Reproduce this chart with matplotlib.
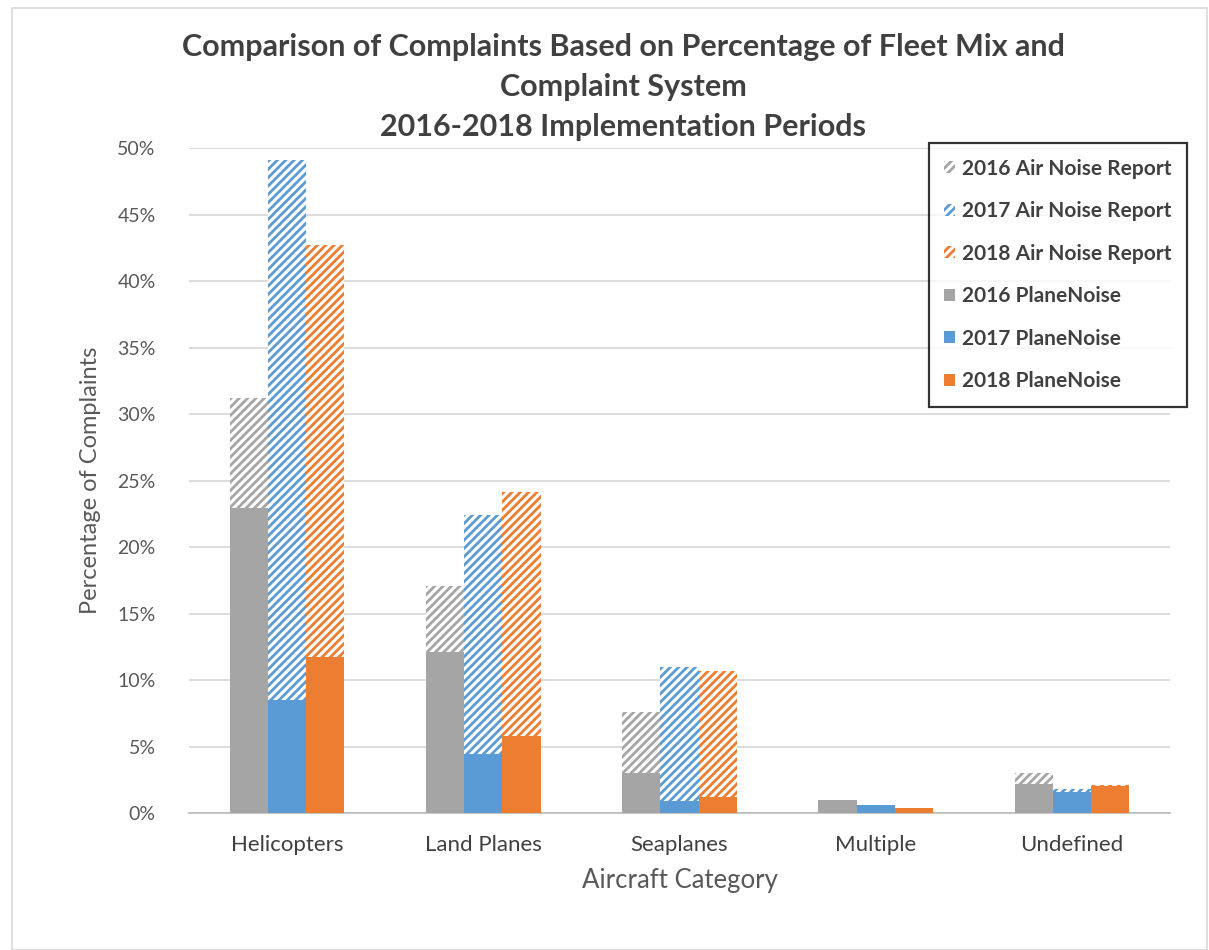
import numpy as np
import matplotlib
matplotlib.use("Agg")
import matplotlib.pyplot as plt
from matplotlib.patches import Rectangle

categories = ["Helicopters", "Land Planes", "Seaplanes", "Multiple", "Undefined"]

# Air Noise Report (hatched, drawn behind)
anr_2016 = [31.2, 17.1, 7.6, 0.8, 3.0]
anr_2017 = [49.1, 22.4, 11.0, 0.4, 1.8]
anr_2018 = [42.7, 24.1, 10.7, 0.3, 2.1]

# PlaneNoise (solid, drawn in front)
pn_2016 = [22.9, 12.1, 3.0, 1.0, 2.2]
pn_2017 = [8.5, 4.4, 0.9, 0.6, 1.6]
pn_2018 = [11.7, 5.8, 1.2, 0.35, 2.0]

years = ["2016", "2017", "2018"]
colors = ["#A5A5A5", "#5B9BD5", "#ED7D31"]

plt.rcParams["font.family"] = ["Lato", "DejaVu Sans"]
plt.rcParams["hatch.linewidth"] = 2.25

fig = plt.figure(figsize=(12.09, 9.5), dpi=100)
ax = fig.add_axes([189 / 1209, 1 - 813 / 950, (1170 - 189) / 1209, (813 - 148) / 950])

x = np.arange(len(categories))
w = 0.195
offsets = [-w, 0, w]

anr = [anr_2016, anr_2017, anr_2018]
pn = [pn_2016, pn_2017, pn_2018]

hatched_handles = []
solid_handles = []
for i in range(3):
    h = ax.bar(x + offsets[i], anr[i], width=w, color=colors[i], edgecolor="white",
               hatch="////", linewidth=0, zorder=2, label=years[i] + " Air Noise Report")
    hatched_handles.append(h)
for i in range(3):
    s = ax.bar(x + offsets[i], pn[i], width=w, color=colors[i], linewidth=0,
               zorder=3, label=years[i] + " PlaneNoise")
    solid_handles.append(s)

ax.set_xlim(-0.5, 4.5)
ax.set_ylim(0, 50)
ax.set_yticks(np.arange(0, 51, 5))
ax.set_yticklabels([f"{v}%" for v in range(0, 51, 5)])
ax.set_xticks(x)
ax.set_xticklabels(categories)
ax.yaxis.grid(True, color="#D9D9D9", linewidth=1.3, zorder=0)
ax.set_axisbelow(True)
for sp in ["top", "right", "left"]:
    ax.spines[sp].set_visible(False)
ax.spines["bottom"].set_color("#BFBFBF")
ax.spines["bottom"].set_linewidth(1.3)
ax.tick_params(axis="both", length=0)
ax.tick_params(axis="y", labelsize=14, labelcolor="#595959", pad=24)
ax.tick_params(axis="x", labelsize=16, labelcolor="#404040", pad=16)

ax.set_ylabel("Percentage of Complaints", fontsize=17, color="#595959", labelpad=12)
ax.set_xlabel("Aircraft Category", fontsize=18.5, color="#595959", labelpad=9)

title_lines = ["Comparison of Complaints Based on Percentage of Fleet Mix and",
               "Complaint System",
               "2016-2018 Implementation Periods"]
title_y = [47, 87, 127]
for line, ty in zip(title_lines, title_y):
    fig.text(623 / 1209, 1 - ty / 950, line, ha="center", va="center",
             fontsize=22, fontweight="bold", color="#404040")

leg = fig.legend(handles=hatched_handles + solid_handles,
                 loc="upper right", bbox_to_anchor=(1187 / 1209, 1 - 143 / 950),
                 fontsize=15, frameon=True, fancybox=False, labelspacing=1.08,
                 handlelength=0.5, handleheight=0.5, handletextpad=0.35,
                 borderpad=0.75, borderaxespad=0)
leg.get_frame().set_edgecolor("black")
leg.get_frame().set_linewidth(1.6)
for t in leg.get_texts():
    t.set_color("#404040")
    t.set_fontweight("bold")

# faint outer chart frame
fig.patches.append(Rectangle((12 / 1209, 0.0), 1 - 14 / 1209, 1 - 8 / 950,
                             transform=fig.transFigure, fill=False,
                             edgecolor="#D9D9D9", linewidth=1.2))

fig.savefig("out.png", dpi=100, facecolor="white")
